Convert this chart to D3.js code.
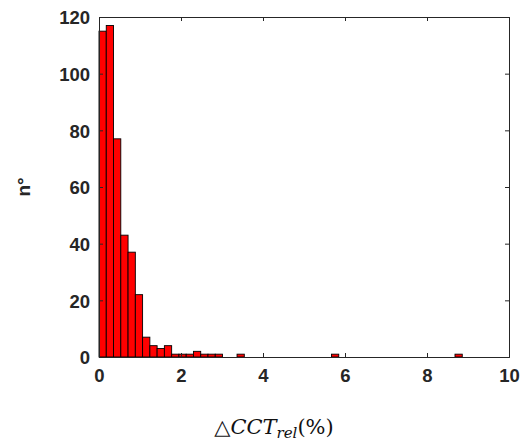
<!DOCTYPE html>
<html>
<head>
<meta charset="utf-8">
<script src="https://cdn.jsdelivr.net/npm/d3@7"></script>
<style>
  body { margin: 0; background: #fff; }
  svg { display: block; }
</style>
</head>
<body>
<div id="chart"></div>
<script>
// histogram data (bin width ~0.177, 50 bins from 0)
const binWidth = 0.1772;
const binCounts = [115, 117, 77, 43, 37, 22, 7, 4, 3, 4,
                   1, 1, 1, 2, 1, 1, 1, 0, 0, 1,
                   0, 0, 0, 0, 0, 0, 0, 0, 0, 0,
                   0, 0, 1, 0, 0, 0, 0, 0, 0, 0,
                   0, 0, 0, 0, 0, 0, 0, 0, 0, 1];
const xTicks = [0, 2, 4, 6, 8, 10];
const yTicks = [0, 20, 40, 60, 80, 100, 120];

const W = 523, H = 446;
const margin = { top: 17, right: 14, bottom: 89, left: 99 };
const width = W - margin.left - margin.right;
const height = H - margin.top - margin.bottom;
const axisColor = "#262626";

const svg = d3.select("#chart").append("svg")
    .attr("width", W).attr("height", H);
const g = svg.append("g")
    .attr("transform", `translate(${margin.left},${margin.top})`);

const x = d3.scaleLinear().domain([0, 10]).range([0, width]);
const y = d3.scaleLinear().domain([0, 120]).range([height, 0]);

const bins = binCounts.map((c, i) => ({ x0: i * binWidth, x1: (i + 1) * binWidth, n: c }));

// bars
g.selectAll(".bar")
    .data(bins)
    .join("rect")
    .attr("class", "bar")
    .attr("x", d => x(d.x0))
    .attr("y", d => y(d.n))
    .attr("width", d => x(d.x1) - x(d.x0))
    .attr("height", d => y(0) - y(d.n))
    .attr("fill", "#ff0000")
    .attr("stroke", "#000")
    .attr("stroke-width", 0.9);

// axes (ticks inward, MATLAB style)
const tickLen = 4;
const xAxis = d3.axisBottom(x).tickValues(xTicks).tickSize(-tickLen).tickPadding(12);
const yAxis = d3.axisLeft(y).tickValues(yTicks).tickSize(-tickLen).tickPadding(9);

const gx = g.append("g").attr("transform", `translate(0,${height})`).call(xAxis);
const gy = g.append("g").call(yAxis);
const gxTop = g.append("g").call(d3.axisTop(x).tickValues(xTicks).tickSize(-tickLen).tickFormat(""));
const gyRight = g.append("g").attr("transform", `translate(${width},0)`)
    .call(d3.axisRight(y).tickValues(yTicks).tickSize(-tickLen).tickFormat(""));

[gx, gy, gxTop, gyRight].forEach(a => {
  a.selectAll("path").attr("stroke", axisColor).attr("stroke-width", 1);
  a.selectAll("line").attr("stroke", axisColor).attr("stroke-width", 1);
  a.selectAll("text")
      .attr("fill", axisColor)
      .style("font-family", "'Liberation Sans', Arial, sans-serif")
      .style("font-weight", "bold")
      .style("font-size", "18.5px");
});
gx.selectAll("text").attr("dy", "0.71em");
gy.selectAll("text").attr("dy", "0.36em");

// y label
svg.append("text")
    .attr("transform", `translate(30,${margin.top + height / 2}) rotate(-90)`)
    .attr("text-anchor", "middle")
    .style("font-family", "'Liberation Sans', Arial, sans-serif")
    .style("font-weight", "bold")
    .style("font-size", "19px")
    .attr("fill", axisColor)
    .text("n°");

// x label
const xl = svg.append("text")
    .attr("x", margin.left + width / 2 - 30)
    .attr("y", 434)
    .attr("text-anchor", "middle")
    .style("font-family", "'DejaVu Serif', 'Liberation Serif', serif")
    .style("font-size", "21px")
    .attr("fill", "#111");
xl.append("tspan").text("△");
xl.append("tspan").style("font-style", "italic").text("CCT");
xl.append("tspan").style("font-style", "italic").style("font-size", "15px").attr("dy", 4).text("rel");
xl.append("tspan").attr("dy", -4).text("(%)");
</script>
</body>
</html>
